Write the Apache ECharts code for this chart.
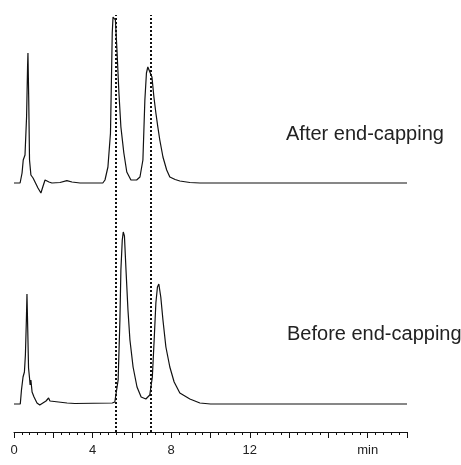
<!DOCTYPE html>
<html>
<head>
<meta charset="utf-8">
<script src="https://cdn.jsdelivr.net/npm/echarts@6/dist/echarts.min.js"></script>
<style>
  html, body { margin: 0; padding: 0; background: #fff; }
  #chart { width: 461px; height: 465px; }
</style>
</head>
<body>
<div id="chart"></div>
<script>
// retention time (min) and detector signal
const afterTime = [0, 0.31, 0.41, 0.47, 0.56, 0.64, 0.69, 0.71, 0.75, 0.79, 0.86, 0.97, 1.07, 1.22, 1.37, 1.48, 1.58, 1.68, 1.78, 1.93, 2.34, 2.69, 2.95, 3.36, 4.37, 4.52, 4.63, 4.78, 4.91, 4.97, 5.0, 5.04, 5.12, 5.16, 5.24, 5.34, 5.44, 5.59, 5.74, 5.95, 6.24, 6.41, 6.56, 6.66, 6.74, 6.81, 6.91, 7.02, 7.12, 7.22, 7.32, 7.42, 7.58, 7.77, 7.93, 8.2, 8.44, 8.95, 9.46, 20];
const afterSignal = [0, 0, 10, 23, 28, 66, 116, 130, 83, 23, 8, 5, 3, -5, -10, -3, 3, 3.5, 1, 0, 0.5, 2.3, 1, 0, 0, 0, 3, 16, 50, 116, 150, 166, 168, 163, 133, 90, 56, 30, 11, 3, 3, 6, 23, 83, 110, 116, 118, 106, 86, 70, 56, 43, 26, 13, 6, 3.5, 2, 0.5, 0, 0];

const beforeTime = [0, 0.32, 0.38, 0.46, 0.53, 0.58, 0.63, 0.66, 0.70, 0.74, 0.79, 0.82, 0.86, 0.92, 1.02, 1.17, 1.31, 1.47, 1.63, 1.76, 1.83, 1.93, 2.7, 3.1, 5.0, 5.13, 5.30, 5.39, 5.44, 5.51, 5.56, 5.62, 5.70, 5.80, 5.90, 6.06, 6.26, 6.47, 6.71, 6.91, 7.04, 7.14, 7.22, 7.30, 7.37, 7.47, 7.58, 7.73, 7.93, 8.15, 8.44, 8.95, 9.46, 10, 20];
const beforeSignal = [0, 0, 14, 27, 32, 49, 84, 110, 74, 36, 26, 19, 24, 12, 7, 1, -1, 1, 3, 6, 3, 1, 1, 0.5, 1, 2, 24, 84, 134, 164, 172, 168, 134, 94, 64, 37, 17, 7, 5, 9, 27, 67, 101, 117, 120, 107, 84, 57, 37, 22, 11, 5, 1, 0, 0];

const peakMarks = [5.19, 6.95];
const tickLabels = { 0: '0', 4: '4', 8: '8', 12: '12', 18: 'min' };
const traceNames = ['After end-capping', 'Before end-capping'];

const afterOffset = 221;
const yMin = -28, yMax = 389;

const chart = echarts.init(document.getElementById('chart'));

const zip = (xs, ys, off) => xs.map((x, i) => [x, ys[i] + off]);

chart.setOption({
  animation: false,
  grid: { left: 14, right: 54, top: 15, bottom: 33 },
  xAxis: {
    type: 'value',
    min: 0,
    max: 20,
    interval: 2,
    axisLine: { show: true, onZero: false, lineStyle: { color: '#111', width: 1 } },
    axisTick: { show: true, inside: false, length: 6, lineStyle: { color: '#111' } },
    minorTick: { show: true, splitNumber: 5, length: 3, lineStyle: { color: '#111' } },
    splitLine: { show: false },
    axisLabel: {
      margin: 12,
      fontFamily: 'Liberation Sans, Arial, sans-serif',
      fontSize: 13,
      color: '#222',
      showMinLabel: true,
      showMaxLabel: true,
      formatter: v => tickLabels[v] || ''
    }
  },
  yAxis: {
    type: 'value',
    min: yMin,
    max: yMax,
    show: false
  },
  series: [
    {
      type: 'line',
      name: traceNames[0],
      data: zip(afterTime, afterSignal, afterOffset),
      showSymbol: false,
      symbol: 'none',
      lineStyle: { color: '#111', width: 1.2 }
    },
    {
      type: 'line',
      name: traceNames[1],
      data: zip(beforeTime, beforeSignal, 0),
      showSymbol: false,
      symbol: 'none',
      lineStyle: { color: '#111', width: 1.2 },
      markLine: {
        silent: true,
        symbol: 'none',
        label: { show: false },
        lineStyle: { color: '#111', width: 2, type: [2, 2] },
        data: peakMarks.map(t => [{ coord: [t, yMin] }, { coord: [t, yMax] }])
      }
    }
  ],
  graphic: [
    {
      type: 'text', left: 286, top: 124,
      style: { text: traceNames[0], font: '20px "Liberation Sans", Arial, sans-serif', fill: '#222' }
    },
    {
      type: 'text', left: 287, top: 324,
      style: { text: traceNames[1], font: '20px "Liberation Sans", Arial, sans-serif', fill: '#222' }
    }
  ]
});
</script>
</body>
</html>
